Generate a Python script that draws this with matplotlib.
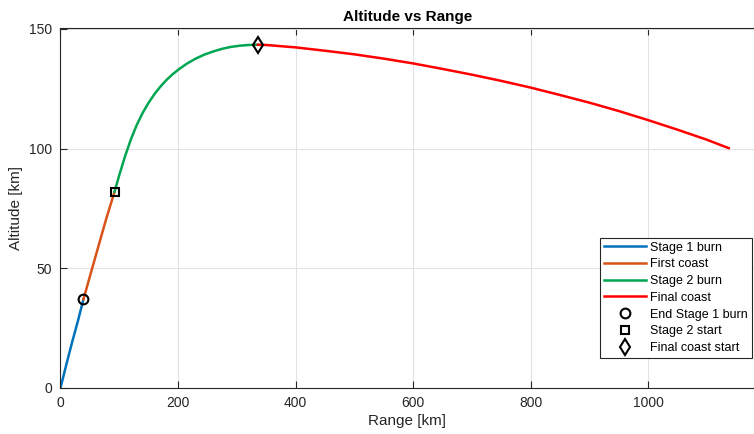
import numpy as np
import matplotlib
matplotlib.use("Agg")
import matplotlib.pyplot as plt

plt.rcParams['font.family'] = ['Liberation Sans', 'DejaVu Sans']

# trajectory segments (range km, altitude km)
s1_x = [0, 10, 20, 30, 39]
s1_y = [0, 9.8, 19.3, 28.3, 37]
coast1_x = [39, 52, 65, 78, 92]
coast1_y = [37, 48.3, 59.6, 70.8, 82]
s2_x = [92, 100, 110, 120, 130, 140, 150, 160, 170, 180, 190, 200, 215, 230, 245,
        260, 275, 290, 305, 320, 336]
s2_y = [82, 88.9, 96.9, 104.0, 110.0, 115.0, 119.2, 122.8, 125.9, 128.6, 130.9, 132.9,
        135.5, 137.6, 139.3, 140.6, 141.7, 142.5, 143.0, 143.3, 143.4]
final_x = [336, 350, 400, 450, 500, 550, 600, 650, 700, 750, 800, 850, 900, 950, 1000,
           1050, 1100, 1137]
final_y = [143.4, 143.3, 142.3, 140.9, 139.4, 137.6, 135.6, 133.3, 130.9, 128.3, 125.5,
           122.4, 119.2, 115.7, 111.9, 107.9, 103.7, 100.2]

# event markers
end_s1 = (39, 37)
start_s2 = (92, 82)
start_final = (336, 143.4)

fig = plt.figure(figsize=(7.54, 4.34), dpi=100)
ax = fig.add_axes([0.0802, 0.106, 0.9198, 0.8295])

lw = 1.8
ax.plot(s1_x, s1_y, color='#0072BD', lw=lw, label='Stage 1 burn')
ax.plot(coast1_x, coast1_y, color='#D95319', lw=lw, label='First coast')
ax.plot(s2_x, s2_y, color='#00A651', lw=lw, label='Stage 2 burn')
ax.plot(final_x, final_y, color='#FF0000', lw=lw, label='Final coast')
ax.plot(*end_s1, 'o', ms=7, mfc='none', mec='black', mew=1.5, ls='none', label='End Stage 1 burn')
ax.plot(*start_s2, 's', ms=6, mfc='none', mec='black', mew=1.5, ls='none', label='Stage 2 start')
ax.plot(*start_final, 'd', ms=8.5, mfc='none', mec='black', mew=1.5, ls='none', label='Final coast start')

ax.set_xlim(0, 1180)
ax.set_ylim(0, 150.4)
ax.set_xticks([0, 200, 400, 600, 800, 1000])
ax.set_yticks([0, 50, 100, 150])
ax.grid(True, color='#e3e3e3', lw=0.8)
ax.set_axisbelow(True)
ax.tick_params(direction='in', length=5, width=0.8, colors='#262626', labelsize=10,
               top=True, right=False, pad=6)
for side in ['left', 'top', 'bottom']:
    ax.spines[side].set_color('#262626')
    ax.spines[side].set_linewidth(0.8)
ax.spines['right'].set_visible(False)

ax.set_xlabel('Range [km]', fontsize=11, color='#262626', labelpad=3)
ax.set_ylabel('Altitude [km]', fontsize=11, color='#262626', labelpad=4)
ax.set_title('Altitude vs Range', fontsize=11, fontweight='bold', pad=5)

leg = ax.legend(loc='lower right', bbox_to_anchor=(0.9967, 0.084), borderaxespad=0,
                fontsize=9, handlelength=3.4, handletextpad=0.3, labelspacing=0.38,
                borderpad=0.3, fancybox=False, framealpha=1, edgecolor='#262626')
leg.get_frame().set_linewidth(0.8)

fig.savefig('out.png', dpi=100)
